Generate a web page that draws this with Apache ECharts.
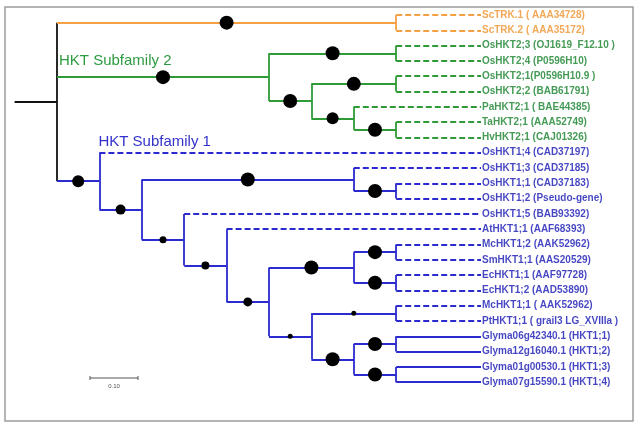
<!DOCTYPE html>
<html>
<head>
<meta charset="utf-8">
<title>HKT phylogenetic tree</title>
<script src="https://cdn.jsdelivr.net/npm/echarts@6/dist/echarts.min.js"></script>
<style>
  html, body { margin: 0; padding: 0; background: #fff; }
  #chart { width: 638px; height: 429px; }
</style>
</head>
<body>
<div id="chart"></div>
<script>
// leaves, top to bottom
const leafLabels = [
  'ScTRK.1 ( AAA34728)', 'ScTRK.2 ( AAA35172)',
  'OsHKT2;3 (OJ1619_F12.10 )', 'OsHKT2;4 (P0596H10)',
  'OsHKT2;1(P0596H10.9 )', 'OsHKT2;2 (BAB61791)',
  'PaHKT2;1 ( BAE44385)', 'TaHKT2;1 (AAA52749)', 'HvHKT2;1 (CAJ01326)',
  'OsHKT1;4 (CAD37197)', 'OsHKT1;3 (CAD37185)', 'OsHKT1;1 (CAD37183)',
  'OsHKT1;2 (Pseudo-gene)', 'OsHKT1;5 (BAB93392)', 'AtHKT1;1 (AAF68393)',
  'McHKT1;2 (AAK52962)', 'SmHKT1;1 (AAS20529)', 'EcHKT1;1 (AAF97728)',
  'EcHKT1;2 (AAD53890)', 'McHKT1;1 ( AAK52962)', 'PtHKT1;1 ( grail3 LG_XVIIIa )',
  'Glyma06g42340.1 (HKT1;1)', 'Glyma12g16040.1 (HKT1;2)',
  'Glyma01g00530.1 (HKT1;3)', 'Glyma07g15590.1 (HKT1;4)'
]
const leafParent = [
  'O', 'O', 'G1', 'G1', 'G21', 'G21', 'G22', 'G221', 'G221',
  'B', 'B21', 'B211', 'B211', 'B22', 'B221',
  'B31', 'B31', 'B32', 'B32', 'B41', 'B41',
  'B421', 'B421', 'B422', 'B422'
]
const leafDepth = 10

// internal nodes
const nodeIds     = ['R', 'O', 'G', 'G1', 'G2', 'G21', 'G22', 'G221', 'B', 'B2', 'B21', 'B211', 'B22', 'B221', 'B2211', 'B3', 'B31', 'B32', 'B4', 'B41', 'B42', 'B421', 'B422']
const nodeParent  = [null, 'R', 'R', 'G', 'G', 'G2', 'G2', 'G22', 'R', 'B', 'B2', 'B21', 'B2', 'B22', 'B221', 'B2211', 'B3', 'B3', 'B2211', 'B4', 'B4', 'B42', 'B42']
const nodeDepth   = [0, 8, 5, 8, 6, 8, 7, 8, 1, 2, 7, 8, 3, 4, 5, 7, 8, 8, 6, 8, 7, 8, 8]
const nodeSupport = [0, 100, 100, 100, 100, 100, 90, 100, 90, 80, 100, 100, 65, 70, 75, 100, 100, 100, 55, 55, 100, 100, 100]

const cladeNames = { O: 'Outgroup', G: 'HKT Subfamily 2', B: 'HKT Subfamily 1' }

const lineColor = { R: '#111111', O: '#F4A043', G: '#2E9B36', B: '#2A2ACF' }
const textColor = { O: '#EF922C', G: '#17822C', B: '#1616B4' }

// build the layout from the arrays
const depthOf = {}
const parentOf = {}
const supportOf = {}
nodeIds.forEach((id, i) => {
  depthOf[id] = nodeDepth[i]
  parentOf[id] = nodeParent[i]
  supportOf[id] = nodeSupport[i]
})
const childYs = {}
leafParent.forEach((p, i) => { (childYs[p] = childYs[p] || []).push(i) })

const yOf = {}
function nodeY(id) {
  if (yOf[id] !== undefined) return yOf[id]
  nodeIds.forEach((c, i) => {
    if (nodeParent[i] === id) (childYs[id] = childYs[id] || []).push(nodeY(c))
  })
  const ys = childYs[id]
  yOf[id] = (Math.min(...ys) + Math.max(...ys)) / 2
  return yOf[id]
}
nodeY('R')

function cladeOf(id) {
  let c = id
  while (parentOf[c] && parentOf[c] !== 'R') c = parentOf[c]
  return c === 'R' ? 'R' : c
}

const segments = []
const dots = []
// root stub
segments.push({ coords: [[-1, yOf.R], [0, yOf.R]], lineStyle: { color: lineColor.R } })
nodeIds.forEach((id) => {
  const ys = childYs[id]
  const clade = cladeOf(id)
  segments.push({
    coords: [[depthOf[id], Math.min(...ys)], [depthOf[id], Math.max(...ys)]],
    lineStyle: { color: lineColor[clade] }
  })
  if (parentOf[id]) {
    const px = depthOf[parentOf[id]]
    segments.push({ coords: [[px, yOf[id]], [depthOf[id], yOf[id]]], lineStyle: { color: lineColor[clade] } })
    dots.push([(px + depthOf[id]) / 2, yOf[id], supportOf[id]])
  }
})
leafParent.forEach((p, i) => {
  const clade = cladeOf(p)
  const solid = leafLabels[i].indexOf('Glyma') === 0
  segments.push({
    coords: [[depthOf[p], i], [leafDepth, i]],
    lineStyle: { color: lineColor[clade], type: solid ? 'solid' : [6, 3] }
  })
})

const labelData = leafLabels.map((name, i) => ({
  value: [leafDepth, i],
  name: name,
  label: { color: textColor[cladeOf(leafParent[i])] }
}))

const chart = echarts.init(document.getElementById('chart'))

chart.setOption({
  animation: false,
  backgroundColor: '#ffffff',
  grid: { left: 14.6, top: 15, width: 466.4, height: 367.2 },
  xAxis: { type: 'value', min: -1, max: leafDepth, show: false },
  yAxis: { type: 'value', min: 0, max: leafLabels.length - 1, inverse: true, show: false },
  series: [
    {
      type: 'lines',
      coordinateSystem: 'cartesian2d',
      silent: true,
      lineStyle: { width: 1.8, opacity: 1, cap: 'butt' },
      data: segments,
      z: 2
    },
    {
      type: 'scatter',
      silent: true,
      data: dots,
      symbolSize: (v) => (v[2] - 30) / 5,
      itemStyle: { color: '#000000', opacity: 1 },
      z: 3
    },
    {
      type: 'scatter',
      silent: true,
      data: labelData,
      symbolSize: 0,
      label: {
        show: true,
        position: 'right',
        distance: 1,
        formatter: '{b}',
        fontFamily: 'Liberation Sans, Arial, sans-serif',
        fontSize: 10,
        fontWeight: 'bold'
      },
      z: 4
    }
  ]
})

// clade titles and scale bar
const g2 = chart.convertToPixel('grid', [0, yOf.G])
const g1 = chart.convertToPixel('grid', [1, 9])
chart.setOption({
  graphic: [
    {
      type: 'rect', shape: { x: 5, y: 7, width: 628, height: 414 },
      style: { fill: 'none', stroke: '#9c9c9c', lineWidth: 1.5 }, silent: true
    },
    {
      type: 'text', x: g2[0] + 2, y: g2[1] - 16,
      style: { text: cladeNames.G, fill: '#2E9B40', font: '15px Liberation Sans, Arial, sans-serif', textVerticalAlign: 'middle' }
    },
    {
      type: 'text', x: g1[0] - 1, y: g1[1] - 11,
      style: { text: cladeNames.B, fill: '#3333CC', font: '15px Liberation Sans, Arial, sans-serif', textVerticalAlign: 'middle' }
    },
    { type: 'line', shape: { x1: 90, y1: 378, x2: 138, y2: 378 }, style: { stroke: '#555', lineWidth: 1 } },
    { type: 'line', shape: { x1: 90, y1: 376, x2: 90, y2: 380 }, style: { stroke: '#555', lineWidth: 1 } },
    { type: 'line', shape: { x1: 138, y1: 376, x2: 138, y2: 380 }, style: { stroke: '#555', lineWidth: 1 } },
    {
      type: 'text', x: 114, y: 383,
      style: { text: '0.10', fill: '#555', font: '6px Liberation Sans, Arial, sans-serif', textAlign: 'center', textVerticalAlign: 'top' }
    }
  ]
})
</script>
</body>
</html>
